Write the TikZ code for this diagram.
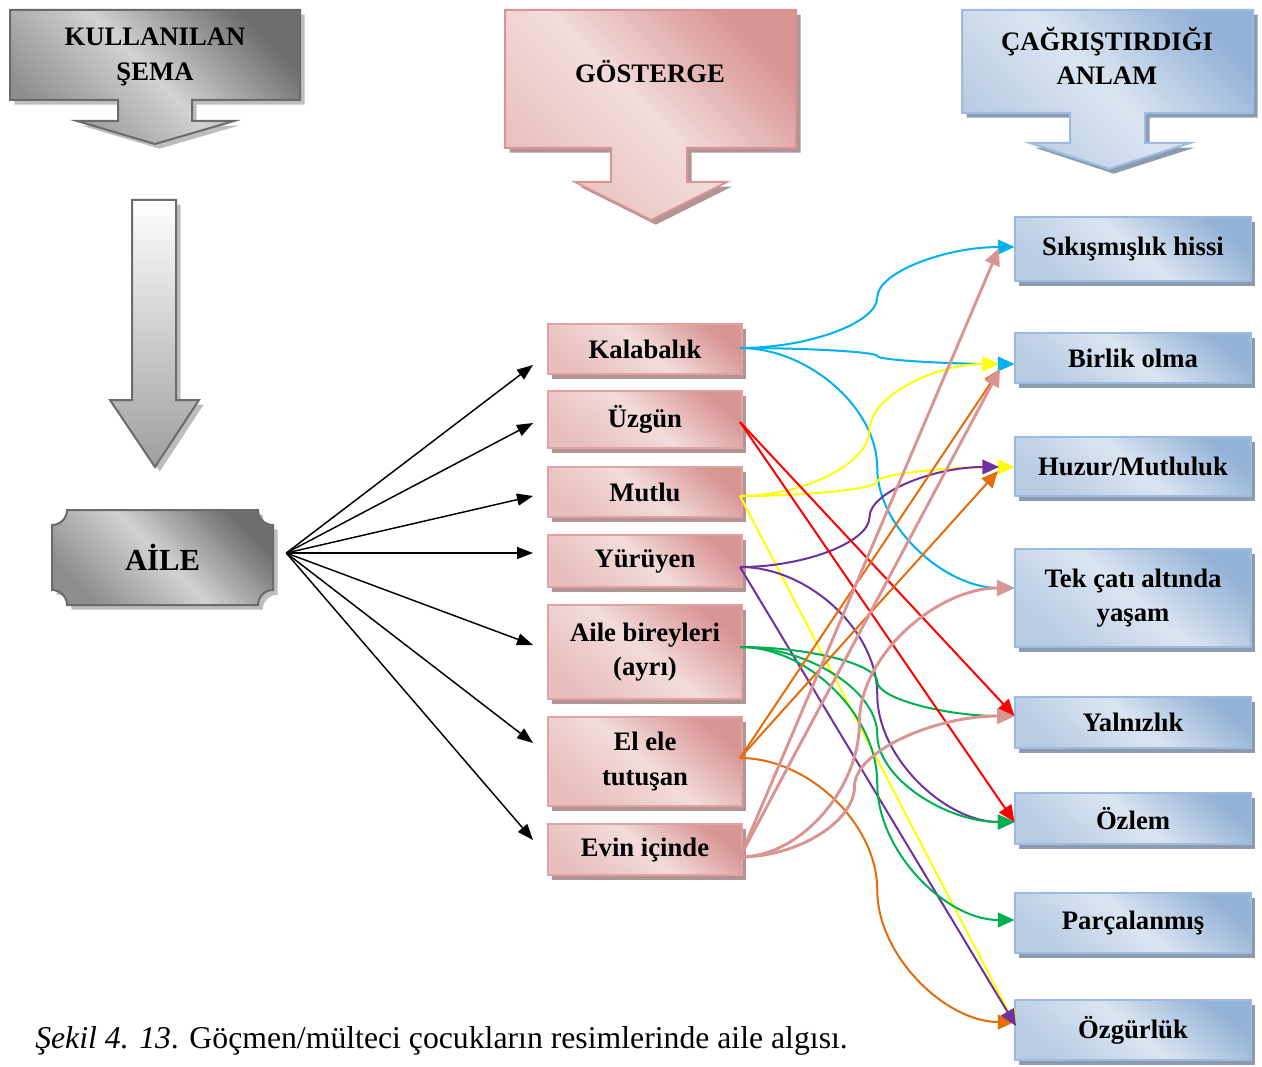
\documentclass[tikz,border=0pt]{standalone}
\usepackage{fontspec}
\setmainfont{Liberation Serif}
\usetikzlibrary{arrows.meta,calc,shadows}

\definecolor{cyanL}{HTML}{00B0F0}
\definecolor{redL}{HTML}{FF0000}
\definecolor{yelL}{HTML}{FFFF00}
\definecolor{purL}{HTML}{7030A0}
\definecolor{grnL}{HTML}{00B050}
\definecolor{orgL}{HTML}{E46C0A}
\definecolor{pnkL}{HTML}{D99594}

\definecolor{pkDark}{HTML}{D99594}
\definecolor{pkLight}{HTML}{F2DCDB}
\definecolor{pkMid}{HTML}{E8BFBE}
\definecolor{pkBorder}{HTML}{E0A3A2}
\definecolor{pkShadow}{HTML}{B39494}

\definecolor{blDark}{HTML}{95B3D7}
\definecolor{blLight}{HTML}{DBE5F1}
\definecolor{blMid}{HTML}{B8CCE4}
\definecolor{blBorder}{HTML}{9DBAE0}
\definecolor{blShadow}{HTML}{8C9BAE}

\definecolor{gyDark}{HTML}{6E6E6E}
\definecolor{gyLight}{HTML}{D2D2D2}
\definecolor{gyMid}{HTML}{8E8E8E}
\definecolor{gyBorder}{HTML}{6B6B6B}
\definecolor{gyShadow}{HTML}{BDBDBD}

\newcommand\bxfont{\fontsize{20pt}{26pt}\selectfont\bfseries}
\newcommand\ailefont{\fontsize{23pt}{27pt}\selectfont\bfseries}
\newcommand\capfont{\fontsize{23.8pt}{28pt}\selectfont}

\tikzset{
  boxbase/.style={rectangle, inner sep=0pt, outer sep=0pt, align=center, font=\bxfont, text=black},
  pbox/.style={boxbase, draw=pkBorder, line width=1.1pt,
    top color=pkDark, bottom color=pkMid, middle color=pkLight, shading angle=-40,
    drop shadow={shadow xshift=3pt, shadow yshift=-4pt, fill=pkShadow, opacity=1},
    minimum width=145.5pt, minimum height=#1*0.75pt},
  bbox/.style={boxbase, draw=blBorder, line width=1.1pt,
    top color=blDark, bottom color=blMid, middle color=blLight, shading angle=-40,
    drop shadow={shadow xshift=3pt, shadow yshift=-4pt, fill=blShadow, opacity=1},
    minimum width=177pt, minimum height=#1*0.75pt},
  hdgray/.style={draw=gyBorder, line width=1.5pt, line join=miter,
    top color=gyDark, bottom color=gyMid, middle color=gyLight, shading angle=-45,
    drop shadow={shadow xshift=3.5pt, shadow yshift=-3.5pt, fill=gyShadow, opacity=1}},
  hdpink/.style={draw=pkDark, line width=1.5pt, line join=miter,
    top color=pkDark, bottom color=pkMid, middle color=pkLight, shading angle=-45,
    drop shadow={shadow xshift=3.5pt, shadow yshift=-3.5pt, fill=pkShadow, opacity=1}},
  hdblue/.style={draw=blBorder, line width=1.5pt, line join=miter,
    top color=blDark, bottom color=blMid, middle color=blLight, shading angle=-45,
    drop shadow={shadow xshift=3.5pt, shadow yshift=-3.5pt, fill=blShadow, opacity=1}},
  vgray/.style={draw=gyBorder, line width=1.5pt, line join=miter,
    top color=white, bottom color=black!38,
    drop shadow={shadow xshift=3.5pt, shadow yshift=-3.5pt, fill=gyShadow, opacity=1}},
  hdtext/.style={align=center, font=\bxfont, text=black, inner sep=0pt},
  conn/.style={line width=1.5pt, color=#1, -{Triangle[length=12.5pt,width=11pt]}},
  pconn/.style={line width=2.2pt, color=pnkL, -{Triangle[length=13pt,width=11.5pt]}},
  blk/.style={line width=1.1pt, black, -{Triangle[length=12pt,width=9pt]}},
  wc/.style={to path={let \p1=(\tikztostart), \p2=(\tikztotarget),
      \n1={\x1+(#1)*(\x2-\x1)} in
      .. controls ({(\x1+\n1*1pt)/2},\y1) and ({\n1*1pt},{(3*(\y1)+\y2)/4})
      .. ({\n1*1pt},{(\y1+\y2)/2})
      .. controls ({\n1*1pt},{(\y1+3*(\y2))/4}) and ({(\n1*1pt+\x2)/2},\y2)
      .. (\tikztotarget)}},
  wc/.default=0.5
}

\begin{document}
\begin{tikzpicture}[x=0.75pt,y=-0.75pt]
\useasboundingbox (0,0) rectangle (1262,1066);

% ---- header callouts ----
\path[hdgray] (10,10) -- (300,10) -- (300,100) -- (192,100) -- (192,121) -- (234,121)
  -- (155,144) -- (77,121) -- (118,121) -- (118,100) -- (10,100) -- cycle;
\node[hdtext] (hk) at (155,57) {KULLANILAN\\ŞEMA};

\path[hdpink] (505,10) -- (796,10) -- (796,148) -- (687,148) -- (687,182) -- (727,182)
  -- (651,220) -- (575,182) -- (611,182) -- (611,148) -- (505,148) -- cycle;
\node[hdtext] (hg) at (650,72) {GÖSTERGE};

\path[hdblue] (962,10) -- (1253,10) -- (1253,113) -- (1145,113) -- (1145,143) -- (1190,143)
  -- (1109,169) -- (1030,143) -- (1070,143) -- (1070,113) -- (962,113) -- cycle;
\node[hdtext] (hc) at (1107,56) {ÇAĞRIŞTIRDIĞI\\ANLAM};

% ---- left vertical arrow ----
\path[vgray] (132,200) -- (176,200) -- (176,400) -- (199,400) -- (155,467) -- (110,400)
  -- (132,400) -- cycle;

% ---- AILE plaque ----
\path[hdgray] (67,510) -- (258,510) .. controls (258,518.3) and (264.7,525) .. (273,525)
  -- (273,590) .. controls (264.7,590) and (258,596.7) .. (258,605)
  -- (67,605) .. controls (67,596.7) and (60.3,590) .. (52,590)
  -- (52,525) .. controls (60.3,525) and (67,518.3) .. (67,510) -- cycle;
\node[font=\ailefont, inner sep=0pt, minimum width=165.75pt, minimum height=71.25pt] (aile) at (162.5,557.5) {AİLE};
\coordinate (aO) at ($(aile.east)+(13,-4.5)$);

% ---- pink boxes ----
\node[pbox=50] (k) at (645,349) {Kalabalık};
\node[pbox=57] (u) at (645,419.5) {Üzgün};
\node[pbox=50] (m) at (645,492) {Mutlu};
\node[pbox=52] (yu) at (645,561) {Yürüyen};
\node[pbox=94] (ab) at (645,652) {Aile bireyleri\\(ayrı)};
\node[pbox=89] (ee) at (645,761.5) {El ele\\tutuşan};
\node[pbox=51] (ev) at (645,849.5) {Evin içinde};

% ---- blue boxes ----
\node[bbox=64] (s) at (1133,249) {Sıkışmışlık hissi};
\node[bbox=50] (b) at (1133,358) {Birlik olma};
\node[bbox=59] (h) at (1133,466.5) {Huzur/Mutluluk};
\node[bbox=98] (t) at (1133,598) {Tek çatı altında\\yaşam};
\node[bbox=51] (yl) at (1133,722.5) {Yalnızlık};
\node[bbox=51] (oz) at (1133,818.5) {Özlem};
\node[bbox=60] (p) at (1133,923) {Parçalanmış};
\node[bbox=60] (og) at (1133,1030) {Özgürlük};

% ---- caption ----
\node[anchor=base west, font=\capfont, inner sep=0pt] (cap) at (35,1048)
  {\textit{Şekil 4. 13}. Göçmen/mülteci çocukların resimlerinde aile algısı.};

% ---- exit points ----
\coordinate (kO) at ($(k.east)+(-2,-1)$);
\coordinate (uO) at ($(u.east)+(-2,2.5)$);
\coordinate (mO) at ($(m.east)+(-2,4)$);
\coordinate (yO) at ($(yu.east)+(-2,6)$);
\coordinate (abO) at ($(ab.east)+(-2,-5)$);
\coordinate (eO) at ($(ee.east)+(-2,-3.5)$);
\coordinate (vO) at ($(ev.east)+(-2,7.5)$);

% ---- target points ----
\coordinate (sT) at ($(s.west)+(-0.5,-2)$);
\coordinate (sT3) at ($(s.west)+(-16,-1)$);
\coordinate (bT) at ($(b.west)+(-0.5,6)$);
\coordinate (bT2) at ($(b.west)+(-16,6)$);
\coordinate (bT3) at ($(b.west)+(-15,11)$);
\coordinate (hT) at ($(h.west)+(-0.5,0.5)$);
\coordinate (hT2) at ($(h.west)+(-16,0.5)$);
\coordinate (hT3) at ($(h.west)+(-17,4.5)$);
\coordinate (tT) at ($(t.west)+(-0.5,-10)$);
\coordinate (ylT) at ($(yl.west)+(-0.5,-6.5)$);
\coordinate (ozT) at ($(oz.west)+(-0.5,3.5)$);
\coordinate (pT) at ($(p.west)+(-0.5,-3)$);
\coordinate (ogT) at ($(og.west)+(-0.5,-8)$);
\coordinate (ogT2) at ($(og.west)+(1,-4)$);

% ---- black fan arrows ----
\draw[blk] (aO) -- ($(k.west)+(-15,16)$);
\draw[blk] (aO) -- ($(u.west)+(-15,3.5)$);
\draw[blk] (aO) -- ($(m.west)+(-15,4)$);
\draw[blk] (aO) -- ($(yu.west)+(-15,-8)$);
\draw[blk] (aO) -- ($(ab.west)+(-15,-7)$);
\draw[blk] (aO) -- ($(ee.west)+(-15,-18.5)$);
\draw[blk] (aO) -- ($(ev.west)+(-15,-9.5)$);

% ---- colored connectors ----
\draw[conn=orgL] (eO) to[wc] (ogT);
\draw[conn=yelL] (mO) -- (ogT2);
\draw[conn=purL] (yO) -- (ogT2);

\draw[conn=cyanL] (kO) to[wc] (sT);
\draw[conn=cyanL] (kO) to[wc] (bT);
\draw[conn=cyanL] (kO) to[wc] (tT);

\draw[conn=yelL] (mO) to[wc] (bT2);
\draw[conn=yelL] (mO) to[wc] (hT);

\draw[conn=purL] (yO) to[wc] (hT2);
\draw[conn=purL] (yO) to[wc] (ozT);

\draw[conn=grnL] (abO) to[wc] (ylT);
\draw[conn=grnL] (abO) to[wc] (pT);
\draw[conn=grnL] (abO) to[wc] (ozT);

\draw[conn=redL] (uO) -- (ylT);
\draw[conn=redL] (uO) -- (ozT);

\draw[conn=orgL] (eO) -- (bT3);
\draw[conn=orgL] (eO) -- (hT3);

\draw[pconn] (vO) -- (sT3);
\draw[pconn] (vO) -- (bT3);
\draw[pconn] (vO) to[wc=0.435] (tT);
\draw[pconn] (vO) to[wc=0.417] (ylT);

\end{tikzpicture}
\end{document}
